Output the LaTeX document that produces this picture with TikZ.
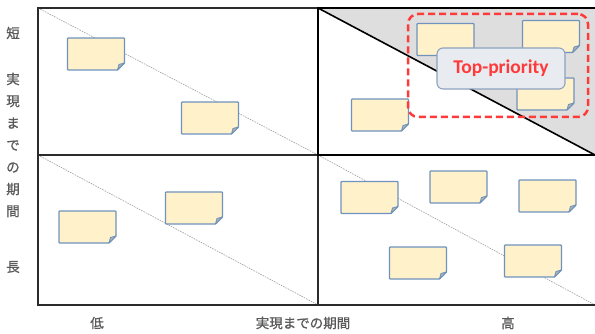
\documentclass[tikz,border=0pt]{standalone}
\usepackage{fontspec}
\newfontfamily\cjk{Noto Sans CJK JP}[FakeBold=0.9]
\newfontfamily\labfont{Carlito}
\definecolor{notefill}{HTML}{FFF1C9}
\definecolor{noteedge}{HTML}{6F93BE}
\definecolor{notefold}{HTML}{B3B6A8}
\definecolor{shadegray}{HTML}{DEDEDE}
\definecolor{gridline}{HTML}{2B2B2B}
\definecolor{redd}{HTML}{FF3A3A}
\definecolor{labfill}{HTML}{E8ECF1}
\definecolor{labedge}{HTML}{8DA2BE}
\definecolor{txtgray}{HTML}{5A5A5A}
\tikzset{
  gridst/.style={line width=1.8pt, draw=gridline},
  guide/.style={draw=gray!75, line width=0.6pt, dash pattern=on 1.6pt off 1pt},
  notebox/.style={minimum width=57pt, minimum height=32pt, inner sep=0pt, outer sep=0pt},
  noteline/.style={fill=notefill, draw=noteedge, line width=1.3pt, rounded corners=0.8pt},
  notefoldst/.style={fill=notefold, draw=noteedge, line width=0.9pt, line join=round},
  prio/.style={draw=redd, line width=2.5pt, dash pattern=on 7pt off 4pt, rounded corners=10pt,
    minimum width=180pt, minimum height=103pt, inner sep=0pt},
  toplab/.style={draw=labedge, fill=labfill, line width=1.1pt, rounded corners=6pt,
    minimum width=128pt, minimum height=41pt, inner sep=0pt, text=redd,
    font=\labfont\bfseries\fontsize{19.5}{24}\selectfont},
  axlab/.style={text=txtgray, font=\cjk\fontsize{13.5}{22}\selectfont, inner sep=0pt, align=center}
}
\newcommand\stickynote[3]{%
  \node[notebox] (#1) at (#2,#3) {};
  \path[noteline] (#1.north west) -- (#1.north east) -- ([yshift=7pt]#1.south east)
    -- ([xshift=-7pt]#1.south east) -- (#1.south west) -- cycle;
  \path[notefoldst] ([yshift=7pt]#1.south east) -- ([xshift=-7pt]#1.south east)
    -- ([xshift=-5.5pt,yshift=5.5pt]#1.south east) -- cycle;
}
\begin{document}
\begin{tikzpicture}[x=1pt,y=-1pt]
\useasboundingbox (0,0) rectangle (595,334);
\clip (0,0) rectangle (595,334);
\coordinate (A) at (38,8);
\coordinate (B) at (318,8);
\coordinate (C) at (598,8);
\coordinate (D) at (38,155);
\coordinate (E) at (318,155);
\coordinate (F) at (598,155);
\coordinate (G) at (38,305);
\coordinate (H) at (318,305);
\coordinate (I) at (598,305);
\coordinate (Fd) at (595,155);
\coordinate (Id) at (595,305);
% shaded triangle
\fill[shadegray] (B) -- (C) -- (F) -- (Fd) -- cycle;
% guide diagonals
\draw[guide] (A) -- (E);
\draw[guide] (D) -- (H);
\draw[guide] (E) -- (Id);
% grid
\draw[gridst] (A) rectangle (I);
\draw[gridst] (B) -- (H);
\draw[gridst] (D) -- (F);
\draw[line width=2.2pt, black] (B) rectangle (F);
\draw[line width=1.6pt, black] (B) -- (Fd);
% notes
\stickynote{n1}{96}{54}
\stickynote{n2}{210}{118}
\stickynote{b1}{87.5}{227}
\stickynote{b2}{194}{208}
\stickynote{r1}{369.5}{197.5}
\stickynote{r2}{458.5}{187}
\stickynote{r3}{547.5}{196}
\stickynote{r4}{418}{263}
\stickynote{r5}{533}{261}
\stickynote{t1}{445.5}{39.5}
\stickynote{t2}{551}{36.5}
\stickynote{t3}{545.5}{94}
\stickynote{t4}{380}{115}
% priority group
\node[prio] (grp) at (498,65.5) {};
\node[toplab] (top) at (501,68.5) {Top-priority};
% axis labels
\node[axlab] (short) at (13,33) {短};
\node[axlab] (ylab) at (13,145) {実\\現\\ま\\で\\の\\期\\間};
\node[axlab] (long) at (13,267) {長};
\node[axlab] (low) at (97,323) {低};
\node[axlab] (xlab) at (303,323) {実現までの期間};
\node[axlab] (high) at (508,323) {高};
\end{tikzpicture}
\end{document}
